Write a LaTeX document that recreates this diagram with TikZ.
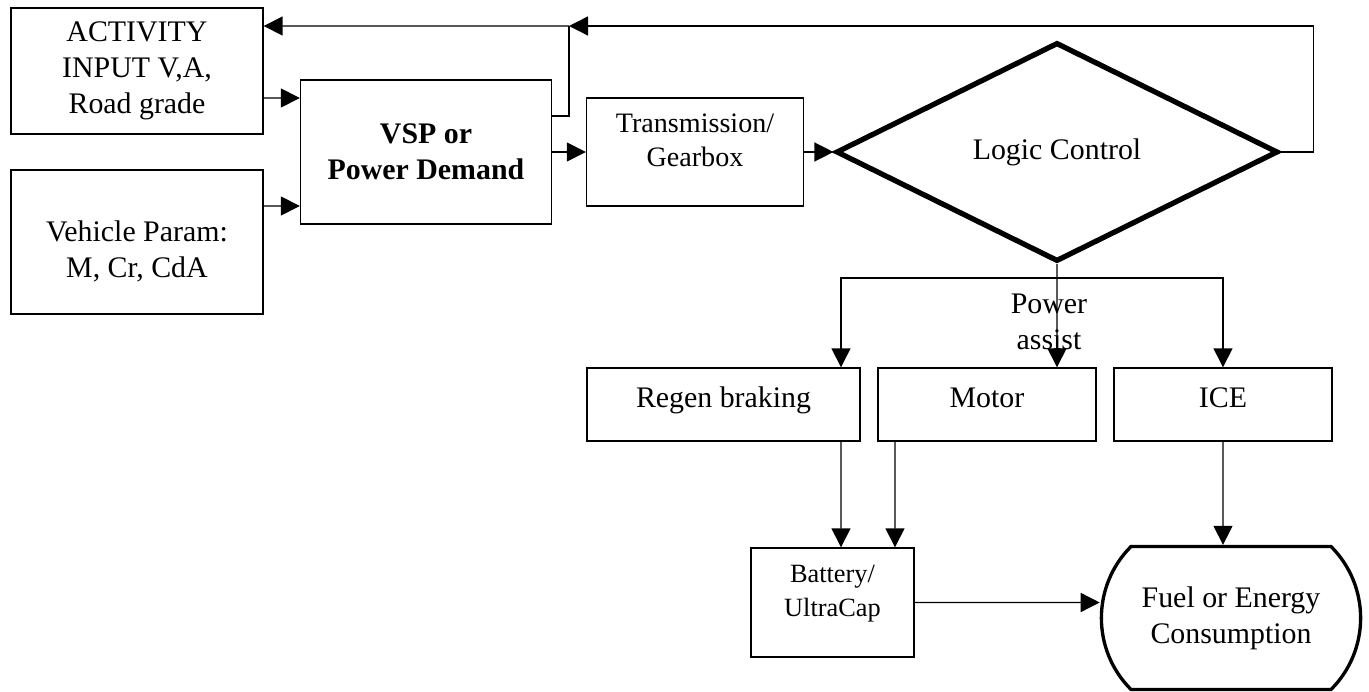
\documentclass[tikz,border=0pt]{standalone}
\usepackage{fontspec}
\setmainfont{Liberation Serif}
\usetikzlibrary{arrows.meta,shapes.geometric,shapes.misc}

\begin{document}
\begin{tikzpicture}[x=0.02cm, y=-0.02cm,
font=\fontsize{17}{20.5}\selectfont,
line width=0.8pt,
>={Triangle[length=0.38cm,width=0.38cm]},
block/.style={rectangle, draw=black, align=center},
unitnode/.style={block, minimum height=1.46cm, text height=0.41cm, text depth=0.3cm},
]
\useasboundingbox (0,0) rectangle (1369,692);

\node[block, minimum width=5.04cm, minimum height=2.52cm]  (act)    at (137,71)      {ACTIVITY\\INPUT V,A,\\Road grade};
\node[block, minimum width=5.04cm, minimum height=2.88cm, text height=1.53cm] (veh) at (137,242) {Vehicle Param:\\M, Cr, CdA};
\node[block, minimum width=5.02cm, minimum height=2.88cm, font=\fontsize{17}{20.5}\selectfont\bfseries] (vsp) at (426,152) {VSP or\\Power Demand};
\node[block, minimum width=4.34cm, minimum height=2.16cm, text depth=0.48cm, font=\fontsize{16}{19.5}\selectfont] (trans) at (695,152) {Transmission/\\Gearbox};
\node[diamond, draw, line width=3pt, minimum width=8.84cm, minimum height=4.34cm] (logic) at (1057,152) {Logic Control};
\node[align=center]                                        (assist) at (1049,322)     {Power\\assist};
\node[unitnode, minimum width=5.46cm]                      (regen)  at (723.5,404.5) {Regen braking};
\node[unitnode, minimum width=4.36cm]                      (motor)  at (987,404.5)   {Motor};
\node[unitnode, minimum width=4.36cm]                      (ice)    at (1223,404.5)  {ICE};
\node[block, minimum width=3.26cm, minimum height=2.18cm, text depth=0.48cm, font=\fontsize{15}{19.5}\selectfont] (batt) at (832.5,602.5) {Battery/\\UltraCap};
\node[rounded rectangle, rounded rectangle arc length=90, draw, line width=1.9pt,
      minimum width=5.42cm, minimum height=2.86cm, align=center] (fuel) at (1231,618) {Fuel or Energy\\Consumption};

\coordinate (fb) at (569,26);
\coordinate (br) at (1057,278);

\draw[->] ([yshift=-0.54cm]act.east) -- ([yshift=1.08cm]vsp.west);
\draw[->] ([yshift=0.72cm]veh.east) -- ([yshift=-1.08cm]vsp.west);
\draw[->] (vsp.east) -- (trans.west);
\draw[->] (trans.east) -- (logic.west);
\draw[->] (logic.east) -- ++(33,0) |- (fb);
\draw[->] (fb) -- ([yshift=0.9cm]act.east);
\draw ([yshift=0.72cm]vsp.east) -| (fb);
\draw[->] (logic.south) -- ([xshift=1.4cm]motor.north);
\draw[->] (br) -| ([xshift=2.35cm]regen.north);
\draw[->] (br) -| (ice.north);
\draw[->] ([xshift=2.35cm]regen.south) -- ([xshift=0.17cm]batt.north);
\draw[->] ([xshift=-1.84cm]motor.south) -- ([xshift=1.25cm]batt.north);
\draw[->] (ice.south) -- ([xshift=-0.16cm]fuel.north);
\draw[->] (batt.east) -- ([yshift=0.31cm]fuel.west);
\end{tikzpicture}
\end{document}
